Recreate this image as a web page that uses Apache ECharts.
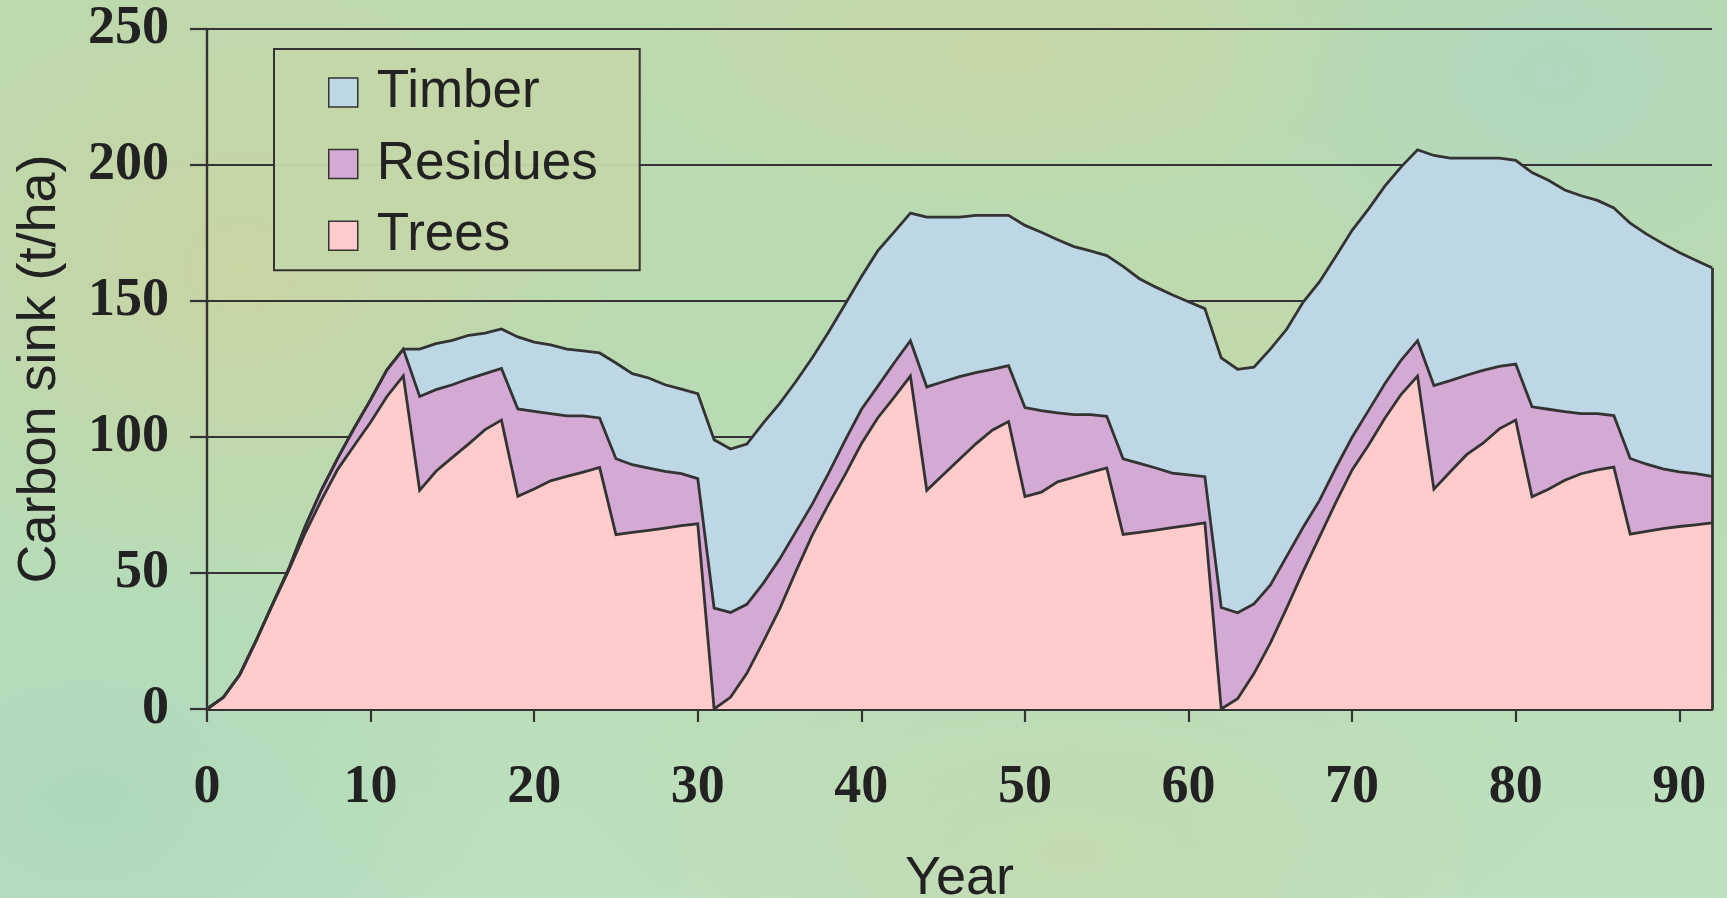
<!DOCTYPE html>
<html>
<head>
<meta charset="utf-8">
<script src="https://cdn.jsdelivr.net/npm/echarts@6/dist/echarts.min.js"></script>
<style>
html,body{margin:0;padding:0;width:1727px;height:898px;overflow:hidden;}
body{
  background:
    radial-gradient(ellipse 420px 320px at 14% 30%, rgba(206,210,158,0.75), rgba(206,210,158,0) 100%),
    radial-gradient(ellipse 380px 160px at 58% 6%, rgba(212,212,158,0.45), rgba(212,212,158,0) 100%),
    radial-gradient(ellipse 360px 260px at 90% 8%, rgba(168,214,200,0.55), rgba(168,214,200,0) 100%),
    radial-gradient(ellipse 420px 160px at 72% 40%, rgba(205,214,160,0.45), rgba(205,214,160,0) 100%),
    radial-gradient(ellipse 500px 250px at 62% 95%, rgba(200,214,165,0.5), rgba(200,214,165,0) 100%),
    radial-gradient(ellipse 400px 300px at 5% 90%, rgba(165,212,185,0.6), rgba(165,212,185,0) 100%),
    linear-gradient(180deg, #bcd9ae 0%, #b8dbb4 50%, #bde0c0 100%);
}
#chart{width:1727px;height:898px;}
</style>
</head>
<body>
<div id="chart"></div>
<script>
// Carbon sink (t/ha) per year
const years = [
  '0','1','2','3','4','5','6','7','8','9','10','11','12','13','14','15','16','17','18','19',
  '20','21','22','23','24','25','26','27','28','29','30','31','32','33','34','35','36','37','38','39',
  '40','41','42','43','44','45','46','47','48','49','50','51','52','53','54','55','56','57','58','59',
  '60','61','62','63','64','65','66','67','68','69','70','71','72','73','74','75','76','77','78','79',
  '80','81','82','83','84','85','86','87','88','89','90','91','92'
];
const trees = [
  0, 4.3, 12.6, 25.1, 38.3, 51.0, 64.7, 76.9, 88.2, 96.9, 105.4, 114.9, 122.5,
  80.4, 87.4, 92.5, 97.5, 102.7, 106.2, 78.2, 80.9, 83.9, 85.5, 87.1, 88.8,
  64.1, 64.9, 65.7, 66.5, 67.4, 68.1,
  0, 4.3, 13.1, 24.7, 36.7, 50.6, 63.9, 75.3, 86.1, 97.5, 107.0, 114.6, 122.4,
  80.4, 86.1, 91.8, 97.5, 102.5, 105.7, 78.1, 79.7, 83.5, 85.2, 87.0, 88.6,
  64.2, 64.9, 65.8, 66.7, 67.5, 68.4,
  0, 3.8, 13.0, 24.2, 37.1, 50.5, 63.2, 75.9, 87.9, 97.0, 106.9, 115.7, 122.4,
  80.8, 87.2, 93.5, 97.7, 103.0, 106.2, 78.0, 80.8, 84.1, 86.5, 87.9, 88.9,
  64.3, 65.3, 66.3, 67.1, 67.7, 68.4
];
const residues = [
  0, 0, 0, 0, 0.2, 0.6, 2.4, 3.7, 4.1, 6.4, 8.3, 9.8, 9.8,
  34.5, 30.0, 26.7, 23.9, 20.6, 19.0, 32.1, 28.5, 24.7, 22.3, 20.7, 18.2,
  27.9, 24.9, 22.9, 20.9, 19.1, 16.6,
  37.1, 31.2, 25.4, 21.5, 18.4, 14.6, 11.4, 11.4, 12.6, 12.6, 11.6, 12.6, 13.0,
  38.0, 34.2, 30.4, 26.2, 22.4, 20.5, 32.7, 30.0, 25.4, 23.0, 21.2, 19.0,
  27.8, 25.4, 22.8, 20.0, 18.6, 17.0,
  37.3, 31.6, 25.6, 21.3, 19.0, 16.2, 13.4, 12.7, 12.0, 12.7, 12.7, 12.6, 13.0,
  38.1, 33.5, 29.2, 26.8, 23.0, 20.6, 33.1, 29.4, 25.2, 22.1, 20.7, 19.0,
  27.8, 24.7, 22.0, 20.1, 18.8, 17.1
];
const timber = [
  0, 0, 0, 0, 0, 0, 0, 0, 0, 0, 0, 0, 0,
  17.4, 16.9, 16.3, 16.0, 14.9, 14.5, 26.5, 25.5, 25.3, 24.5, 23.9, 23.9,
  35.2, 33.5, 33.1, 31.8, 31.1, 31.2,
  61.9, 60.1, 58.9, 58.9, 57.2, 55.2, 53.8, 51.9, 50.0, 48.8, 49.8, 48.1, 46.9,
  62.4, 60.5, 58.6, 57.8, 56.6, 55.3, 67.0, 65.6, 63.6, 61.8, 60.2, 59.1,
  70.7, 67.9, 66.5, 65.6, 63.6, 61.8,
  91.8, 89.5, 87.1, 86.8, 83.5, 82.8, 80.4, 77.8, 76.1, 74.1, 72.6, 71.0, 70.2,
  84.6, 81.8, 79.8, 78.0, 76.5, 74.9, 86.1, 84.2, 81.5, 80.1, 78.4, 76.3,
  86.5, 84.6, 82.8, 80.6, 78.5, 76.7
];
const xTickStep = 10;   // a tick and label every 10 years

const colors = { Trees: '#FFCBCB', Residues: '#D4A9D3', Timber: '#BED7E4' };
const edgeColor = '#333333';
const lw = 2.8;

const lastIdx = years.length - 1;
const lastTotal = trees[lastIdx] + residues[lastIdx] + timber[lastIdx];

function areaSeries(name, arr, extra) {
  return Object.assign({
    name: name, type: 'line', stack: 'total', data: arr,
    symbol: 'none', showSymbol: false, smooth: false,
    color: colors[name],
    itemStyle: { color: colors[name] },
    lineStyle: { color: edgeColor, width: lw, join: 'miter' },
    areaStyle: { color: colors[name], opacity: 1 },
    emphasis: { disabled: true }
  }, extra || {});
}

const tickFn = (idx) => idx % xTickStep === 0;
const sans = 'Liberation Sans, Arial, sans-serif';
const serif = 'Liberation Serif, Times New Roman, serif';

const chart = echarts.init(document.getElementById('chart'), null, { renderer: 'canvas' });
chart.setOption({
  animation: false,
  backgroundColor: 'transparent',
  grid: { left: 207, right: 15, top: 29, bottom: 189, containLabel: false, outerBoundsMode: 'none' },
  legend: {
    orient: 'vertical', left: 274, top: 49,
    data: ['Timber', 'Residues', 'Trees'],
    icon: 'rect', itemWidth: 29, itemHeight: 29, itemGap: 18.6,
    padding: [17, 42, 8, 54],
    borderColor: edgeColor, borderWidth: 2,
    backgroundColor: 'rgba(196,214,168,0.96)',
    selectedMode: false,
    itemStyle: { borderColor: edgeColor, borderWidth: 1.5 },
    textStyle: { fontFamily: sans, fontSize: 53, color: '#222', padding: [0, 0, 0, 14] }
  },
  xAxis: {
    type: 'category', data: years, boundaryGap: false,
    name: 'Year', nameLocation: 'middle', nameGap: 143,
    nameTextStyle: { fontFamily: sans, fontSize: 54, color: '#222' },
    axisLine: { show: true, lineStyle: { color: edgeColor, width: 3 } },
    axisTick: { show: true, length: 13, interval: tickFn, lineStyle: { color: edgeColor, width: 2.2 } },
    axisLabel: { interval: tickFn, margin: 52, fontFamily: serif, fontWeight: 'bold', fontSize: 54, color: '#222' },
    splitLine: { show: false }
  },
  yAxis: {
    type: 'value', min: 0, max: 250, interval: 50,
    name: 'Carbon sink (t/ha)', nameLocation: 'middle', nameGap: 140,
    nameTextStyle: { fontFamily: sans, fontSize: 54, color: '#222' },
    axisLine: { show: true, lineStyle: { color: edgeColor, width: 2.4 } },
    axisTick: { show: true, length: 17, lineStyle: { color: edgeColor, width: 2.2 } },
    axisLabel: { margin: 38, fontFamily: serif, fontWeight: 'bold', fontSize: 54, color: '#222' },
    splitLine: { show: true, lineStyle: { color: edgeColor, width: 2.2 } }
  },
  series: [
    areaSeries('Trees', trees),
    areaSeries('Residues', residues),
    areaSeries('Timber', timber, {
      markLine: {
        silent: true, symbol: ['none', 'none'], label: { show: false },
        lineStyle: { color: edgeColor, width: lw, type: 'solid' },
        emphasis: { disabled: true },
        data: [[{ coord: [years[lastIdx], 0] }, { coord: [years[lastIdx], lastTotal] }]]
      }
    })
  ]
});
</script>
</body>
</html>
